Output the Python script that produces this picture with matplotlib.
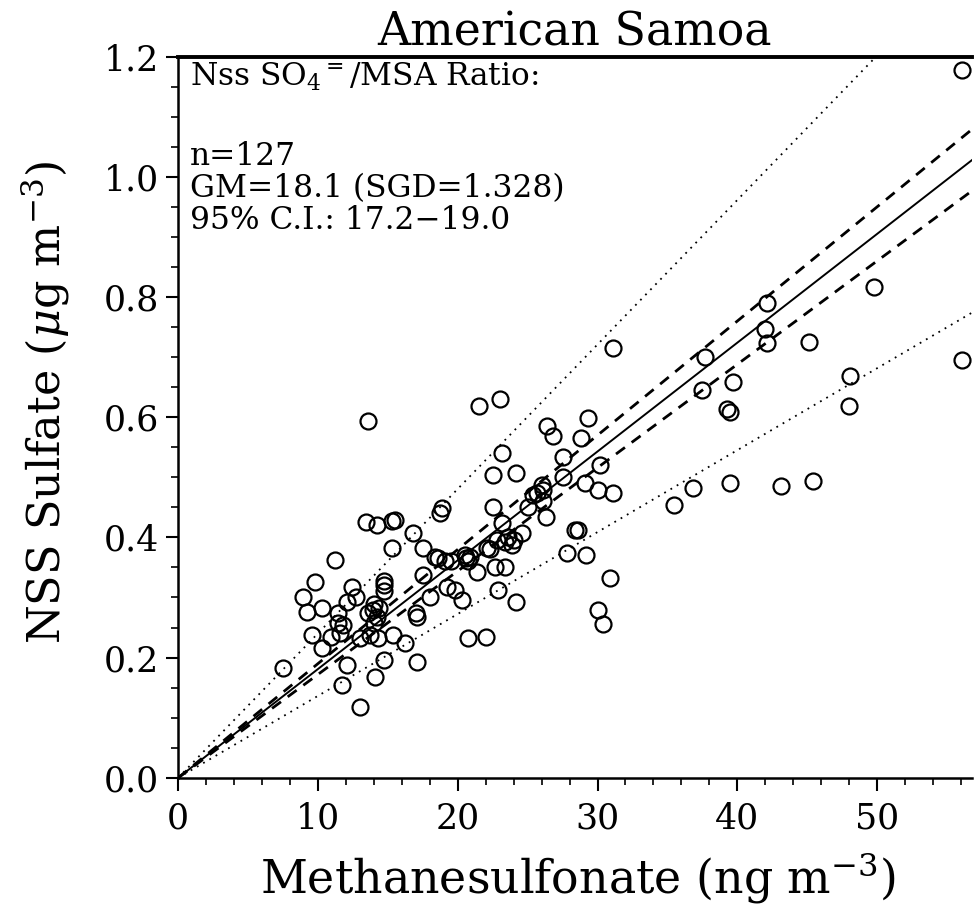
import numpy as np
import matplotlib.pyplot as plt
from matplotlib.ticker import MultipleLocator

# MSA (ng m-3) vs nss sulfate (ug m-3)
msa = [56.1, 49.8, 42.1, 42.0, 42.1, 45.1, 48.1, 48.0, 56.1, 39.7,
       39.3, 39.5, 39.5, 43.1, 45.4, 31.1, 37.7, 37.5, 29.3, 28.8,
       30.2, 27.5, 27.5, 29.1, 30.0, 31.1, 36.8, 35.5, 26.4, 26.8,
       26.1, 26.1, 26.3, 28.4, 28.6, 27.8, 29.2, 30.9, 30.0, 30.4,
       22.5, 18.9, 18.7, 15.5, 16.8, 17.5, 15.3, 18.4, 19.1, 20.5,
       20.7, 21.4, 22.1, 23.2, 22.8, 23.4, 23.9, 24.6, 25.0, 25.7,
       22.7, 23.4, 22.9, 24.2, 17.5, 19.2, 19.8, 20.3, 18.0, 17.0,
       17.1, 15.4, 16.2, 20.7, 22.0, 17.1, 21.5, 23.0, 23.2, 22.5,
       24.2, 13.4, 14.2, 15.3, 11.2, 9.8, 12.4, 8.9, 9.2, 10.3,
       11.4, 12.1, 14.7, 14.7, 11.4, 11.8, 13.6, 14.2, 14.0, 9.6,
       10.3, 10.9, 11.6, 13.0, 13.7, 14.3, 12.1, 7.5, 11.7, 14.1,
       14.7, 13.0, 13.6, 14.4, 20.6, 14.7, 26.0, 23.6, 20.9, 14.0,
       13.9, 22.3, 24.0, 19.5, 25.4, 18.6, 12.7]
nss = [1.178, 0.817, 0.790, 0.747, 0.724, 0.726, 0.669, 0.618, 0.696, 0.659,
       0.613, 0.608, 0.491, 0.486, 0.494, 0.716, 0.700, 0.646, 0.599, 0.566,
       0.521, 0.533, 0.500, 0.490, 0.479, 0.474, 0.483, 0.454, 0.586, 0.569,
       0.479, 0.460, 0.434, 0.413, 0.413, 0.374, 0.370, 0.333, 0.280, 0.256,
       0.451, 0.449, 0.441, 0.429, 0.408, 0.383, 0.383, 0.368, 0.360, 0.371,
       0.360, 0.343, 0.383, 0.424, 0.396, 0.393, 0.388, 0.408, 0.451, 0.474,
       0.350, 0.350, 0.313, 0.293, 0.338, 0.318, 0.313, 0.296, 0.300, 0.275,
       0.268, 0.238, 0.225, 0.233, 0.235, 0.193, 0.619, 0.631, 0.541, 0.504,
       0.508, 0.426, 0.421, 0.428, 0.363, 0.325, 0.318, 0.300, 0.276, 0.283,
       0.275, 0.293, 0.321, 0.310, 0.258, 0.255, 0.275, 0.268, 0.258, 0.238,
       0.216, 0.235, 0.241, 0.233, 0.238, 0.233, 0.188, 0.183, 0.155, 0.168,
       0.196, 0.117, 0.593, 0.282, 0.365, 0.328, 0.488, 0.400, 0.368, 0.290,
       0.280, 0.380, 0.395, 0.360, 0.470, 0.365, 0.300]

# ratio lines (nss sulfate / MSA, x1000)
gm = 18.1
ci = [17.2, 19.0]
sgd = 1.328

plt.rcParams['font.family'] = 'DejaVu Serif'
plt.rcParams['mathtext.fontset'] = 'dejavuserif'

fig = plt.figure(figsize=(9.74, 9.15), dpi=100)
ax = fig.add_axes([0.183, 0.150, 0.815, 0.788])

xmax = 56.8
xx = np.array([0, xmax])
ax.plot(xx, xx * gm / 1000, color='black', lw=1.4)
for c in ci:
    ax.plot(xx, xx * c / 1000, color='black', lw=2.0, dashes=(4, 3))
ax.plot(xx, xx * gm * sgd / 1000, color='black', lw=1.3, ls=(0, (1, 3)))
ax.plot(xx, xx * gm / sgd / 1000, color='black', lw=1.3, ls=(0, (1, 3)))

ax.plot(msa, nss, 'o', ms=11.5, mfc='none', mec='black', mew=1.6)

ax.set_xlim(0, xmax)
ax.set_ylim(0, 1.2)
ax.xaxis.set_major_locator(MultipleLocator(10))
ax.xaxis.set_minor_locator(MultipleLocator(2))
ax.yaxis.set_major_locator(MultipleLocator(0.2))
ax.yaxis.set_minor_locator(MultipleLocator(0.05))
ax.set_yticks(np.arange(0, 1.21, 0.2))
ax.set_yticklabels(['0.0', '0.2', '0.4', '0.6', '0.8', '1.0', '1.2'])
ax.tick_params(which='major', direction='out', length=9, width=1.5,
               labelsize=25, pad=5)
ax.tick_params(axis='x', which='major', pad=8)
ax.tick_params(which='minor', direction='out', length=5, width=1.2)

ax.spines['right'].set_visible(False)
ax.spines['top'].set_linewidth(2.8)
ax.spines['left'].set_linewidth(1.8)
ax.spines['bottom'].set_linewidth(1.8)

fig.text(0.593, 1 - 893 / 915, r'Methanesulfonate (ng m$^{-3}$)',
         fontsize=33, ha='center', va='baseline')
fig.text(0.047, 1 - 402 / 915, r'NSS Sulfate ($\mu$g m$^{-3}$)',
         fontsize=32, ha='center', va='center', rotation=90)

fig.text(0.59, 1 - 45 / 915, 'American Samoa', fontsize=33,
         ha='center', va='baseline')

fig.text(0.195, 1 - 86 / 915, r'Nss SO$_4$$^{=}$/MSA Ratio:', fontsize=22.5,
         va='baseline')
fig.text(0.195, 1 - 165 / 915, 'n=127', fontsize=22.5, va='baseline')
fig.text(0.195, 1 - 197 / 915, 'GM=18.1 (SGD=1.328)', fontsize=22.5,
         va='baseline')
fig.text(0.195, 1 - 229 / 915, '95% C.I.: 17.2\u221219.0', fontsize=22.5,
         va='baseline')

plt.savefig('out.png', dpi=100)
